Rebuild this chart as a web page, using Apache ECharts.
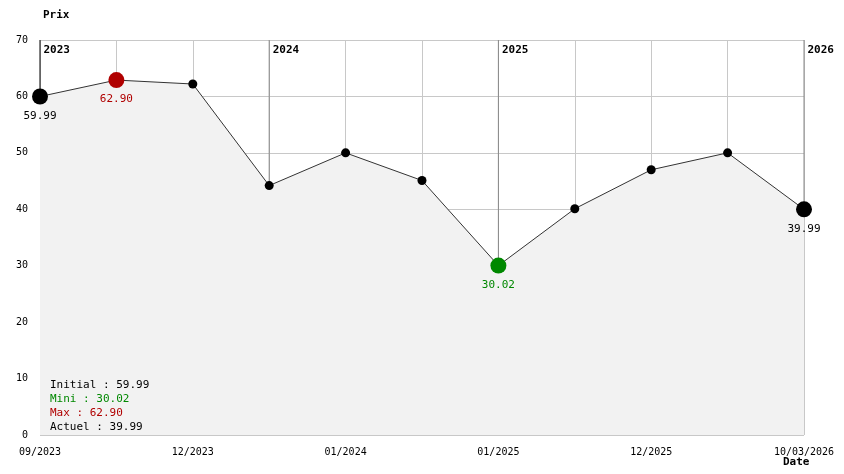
<!DOCTYPE html>
<html>
<head>
<meta charset="utf-8">
<style>html,body{margin:0;padding:0;background:#fff}#main{width:844px;height:474px}</style>
<script src="https://cdn.jsdelivr.net/npm/echarts@6/dist/echarts.min.js"></script>
</head>
<body>
<div id="main"></div>
<script>
var dates = ['09/2023', '', '12/2023', '', '01/2024', '', '01/2025', '', '12/2025', '', '10/03/2026'];
var prices = [59.99, 62.90, 62.2, 44.2, 50.0, 45.1, 30.02, 40.1, 47.0, 50.0, 39.99];
var yearIdx = [0, 3, 6, 10];
var yearNames = ['2023', '2024', '2025', '2026'];
var initial = 59.99, mini = 30.02, maxi = 62.90, actuel = 39.99;

var font = 'DejaVu Sans Mono';
var myChart = echarts.init(document.getElementById('main'));

var points = prices.map(function (v, i) {
    var p = {value: v, symbolSize: 9, itemStyle: {color: '#000'}, label: {show: false}};
    if (i === 0 || i === prices.length - 1) {
        p.symbolSize = 16;
        p.label = {show: true, color: '#000'};
    }
    if (v === maxi) { p.symbolSize = 16; p.itemStyle = {color: '#b00000'}; p.label = {show: true, color: '#b00000'}; }
    if (v === mini) { p.symbolSize = 16; p.itemStyle = {color: '#008800'}; p.label = {show: true, color: '#008800'}; }
    return p;
});

var series = [{
    type: 'line',
    data: points,
    symbol: 'circle',
    lineStyle: {color: '#333', width: 1},
    areaStyle: {color: '#f2f2f2', opacity: 1},
    label: {position: 'bottom', distance: 6, fontFamily: font, fontSize: 11,
        formatter: function (p) { return p.value.toFixed(2); }},
    z: 3,
    silent: true
}];
yearIdx.forEach(function (idx, k) {
    series.push({
        type: 'line',
        data: [[idx, 70], [idx, prices[idx]]],
        symbol: 'none',
        lineStyle: {color: k === 0 ? '#000' : '#888', width: 1},
        z: 2,
        silent: true,
        markPoint: {
            symbol: 'rect', symbolSize: 1, itemStyle: {color: 'transparent'},
            data: [{coord: [idx, 70], value: yearNames[k]}],
            label: {show: true, position: 'right', offset: [-2, 10], color: '#000', fontFamily: font, fontSize: 11, fontWeight: 'bold',
                formatter: yearNames[k]}
        }
    });
});

function txt(y, s, c, bold) {
    return {type: 'text', x: y[0], y: y[1], z: 10,
        style: {text: s, fill: c, fontFamily: font, fontSize: 11, fontWeight: bold ? 'bold' : 'normal'}};
}

var option = {
    animation: false,
    grid: {left: 40, right: 40, top: 40, bottom: 39},
    title: {
        text: 'Prix', left: 38, top: 5,
        textStyle: {fontFamily: font, fontSize: 11, fontWeight: 'bold', color: '#000'}
    },
    graphic: [
        txt([783, 457], 'Date', '#000', true),
        txt([50, 380], 'Initial : ' + initial.toFixed(2), '#000'),
        txt([50, 394], 'Mini : ' + mini.toFixed(2), '#008800'),
        txt([50, 408], 'Max : ' + maxi.toFixed(2), '#b00000'),
        txt([50, 422], 'Actuel : ' + actuel.toFixed(2), '#000')
    ],
    xAxis: {
        type: 'category',
        boundaryGap: false,
        data: dates,
        axisLine: {show: false},
        axisTick: {show: false},
        axisLabel: {interval: 0, margin: 12, color: '#000', fontFamily: font, fontSize: 10},
        splitLine: {show: true, lineStyle: {color: '#c8c8c8'}}
    },
    yAxis: {
        type: 'value',
        min: 0, max: 70, interval: 10,
        axisLine: {show: false},
        axisTick: {show: false},
        axisLabel: {margin: 12, color: '#000', fontFamily: font, fontSize: 10},
        splitLine: {lineStyle: {color: '#c8c8c8'}}
    },
    series: series
};
myChart.setOption(option);
</script>
</body>
</html>
